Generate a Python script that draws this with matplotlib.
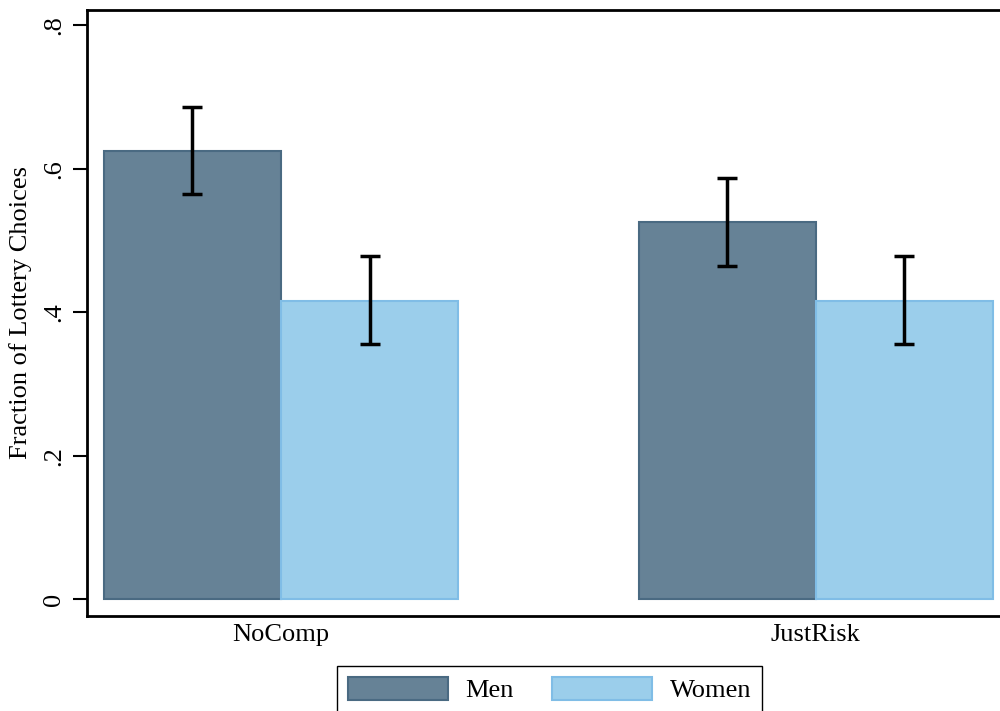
import numpy as np
import matplotlib
matplotlib.use("Agg")
from matplotlib import pyplot as plt

groups = ["NoComp", "JustRisk"]
men = [0.625, 0.525]
men_lo = [0.565, 0.464]
men_hi = [0.686, 0.587]
women = [0.416, 0.416]
women_lo = [0.355, 0.355]
women_hi = [0.478, 0.478]
yticks = [0, 0.2, 0.4, 0.6, 0.8]
ytick_labels = ["0", ".2", ".4", ".6", ".8"]

plt.rcParams["font.family"] = ["Liberation Serif", "DejaVu Serif"]
plt.rcParams["font.size"] = 19

fig = plt.figure(figsize=(10, 7.11), dpi=100)
ax = fig.add_axes([0.087, 0.1336, 0.913, 0.8524])

gap = 3.02
x = np.arange(len(groups)) * gap
men_c, women_c = "#668296", "#9bceeb"
men_e, women_e = "#4a6a82", "#80bde6"

ax.bar(x, men, width=1, color=men_c, edgecolor=men_e, linewidth=1.5, label="Men")
ax.bar(x + 1, women, width=1, color=women_c, edgecolor=women_e, linewidth=1.5, label="Women")

err_kw = dict(fmt="none", ecolor="black", elinewidth=2.5, capsize=7, capthick=2.5)
ax.errorbar(x, men, yerr=[np.array(men) - men_lo, np.array(men_hi) - men], **err_kw)
ax.errorbar(x + 1, women, yerr=[np.array(women) - women_lo, np.array(women_hi) - women], **err_kw)

ax.set_xlim(-0.596, 4.562)
ax.set_ylim(-0.0237, 0.8213)
ax.set_xticks(x + 0.5)
ax.set_xticklabels(groups)
ax.tick_params(axis="x", length=0, pad=6)
ax.set_yticks(yticks)
ax.set_yticklabels(ytick_labels, rotation=90, va="center")
ax.tick_params(axis="y", length=10, width=1.5, pad=6)
ax.set_ylabel("Fraction of Lottery Choices", labelpad=8)

for s in ["right"]:
    ax.spines[s].set_visible(False)
for s in ["left", "bottom", "top"]:
    ax.spines[s].set_linewidth(2)

fig.legend(loc="upper center", bbox_to_anchor=(0.5495, 0.0633), ncol=2,
           frameon=True, fancybox=False, edgecolor="black", framealpha=1,
           handlelength=3.8, handleheight=1.0, handletextpad=0.65,
           columnspacing=1.45, borderpad=0.4, borderaxespad=0)

fig.savefig("out.png", dpi=100)
